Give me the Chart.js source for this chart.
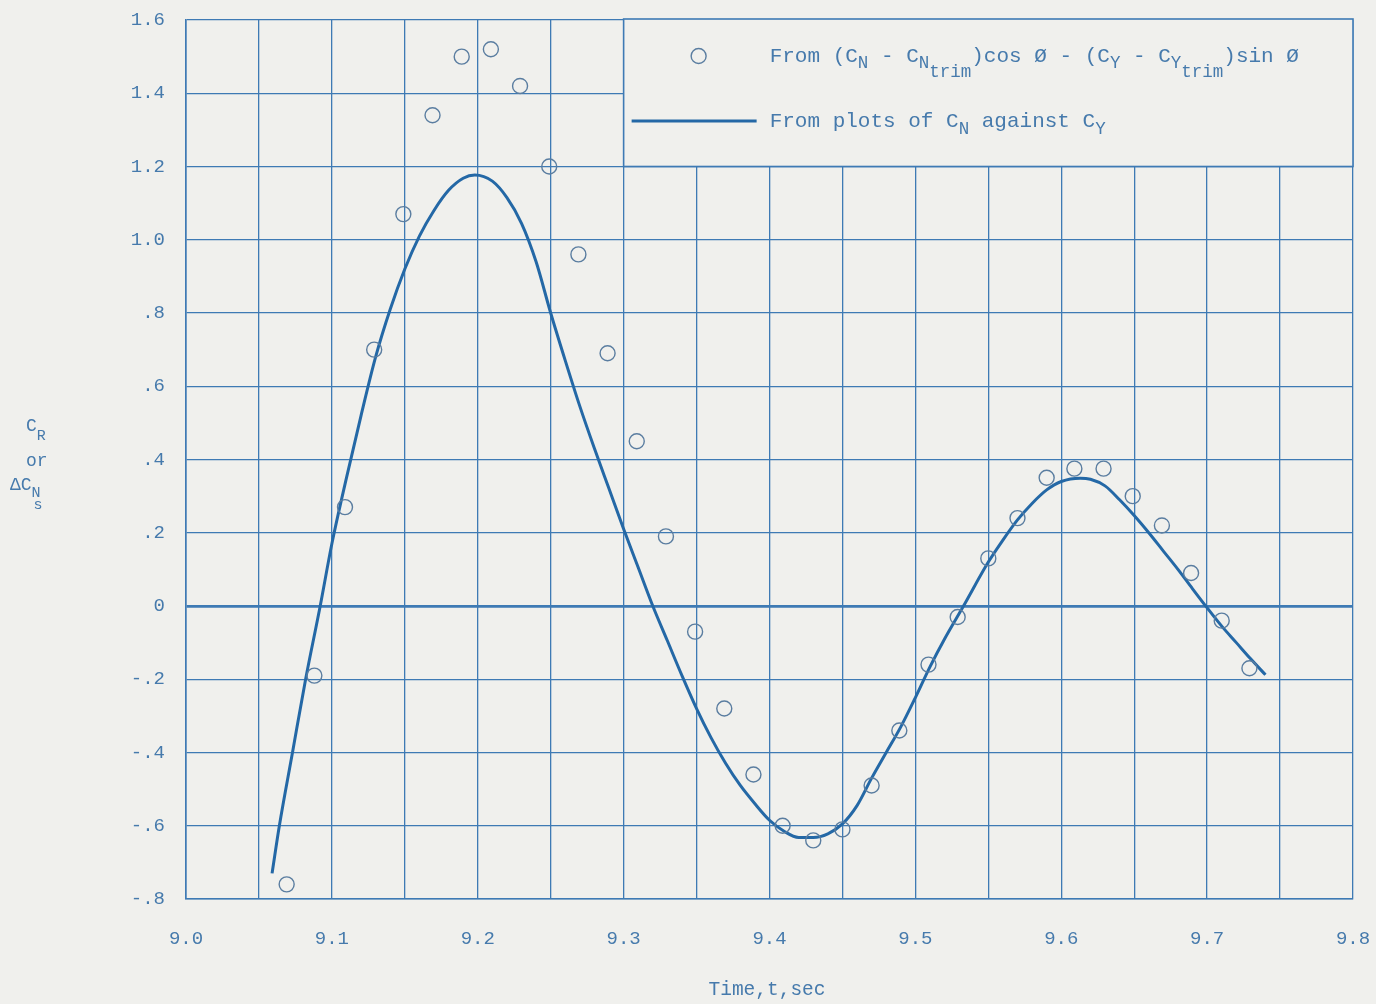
<!DOCTYPE html>
<html>
<head>
<meta charset="utf-8">
<script src="https://cdn.jsdelivr.net/npm/chart.js@4.4.1/dist/chart.umd.min.js"></script>
<style>
  html, body { margin: 0; padding: 0; background: #efefec; }
  #wrap { width: 1376px; height: 1004px; }
</style>
</head>
<body>
<div id="wrap"><canvas id="chart" width="1376" height="1004"></canvas></div>
<script>
// Circles: from (CN - CNtrim)cos Ø - (CY - CYtrim)sin Ø
const timeCircles = [9.069, 9.088, 9.109, 9.129, 9.149, 9.169, 9.189, 9.209, 9.229, 9.249,
  9.269, 9.289, 9.309, 9.329, 9.349, 9.369, 9.389, 9.409, 9.430, 9.450,
  9.470, 9.489, 9.509, 9.529, 9.550, 9.570, 9.590, 9.609, 9.629, 9.649,
  9.669, 9.689, 9.710, 9.729];
const crCircles = [-0.76, -0.19, 0.27, 0.70, 1.07, 1.34, 1.50, 1.52, 1.42, 1.20,
  0.96, 0.69, 0.45, 0.19, -0.07, -0.28, -0.46, -0.60, -0.64, -0.61,
  -0.49, -0.34, -0.16, -0.03, 0.13, 0.24, 0.35, 0.375, 0.375, 0.30,
  0.22, 0.09, -0.04, -0.17];

// Solid curve: from plots of CN against CY
const timeCurve = [9.059, 9.064, 9.073, 9.082, 9.092, 9.100, 9.110, 9.120, 9.130, 9.140,
  9.150, 9.160, 9.170, 9.180, 9.190, 9.198, 9.210, 9.220, 9.230, 9.240,
  9.250, 9.260, 9.270, 9.280, 9.290, 9.300, 9.310, 9.320, 9.330, 9.340,
  9.350, 9.360, 9.370, 9.380, 9.390, 9.400, 9.410, 9.420, 9.430, 9.440,
  9.450, 9.460, 9.470, 9.480, 9.490, 9.500, 9.510, 9.520, 9.533, 9.550,
  9.560, 9.570, 9.580, 9.590, 9.600, 9.613, 9.620, 9.630, 9.640, 9.650,
  9.660, 9.670, 9.680, 9.690, 9.700, 9.710, 9.720, 9.730, 9.740];
const cnCurve = [-0.73, -0.60, -0.40, -0.20, 0.00, 0.17, 0.35, 0.52, 0.68, 0.81,
  0.92, 1.01, 1.08, 1.135, 1.168, 1.177, 1.16, 1.115, 1.045, 0.94,
  0.80, 0.67, 0.545, 0.43, 0.32, 0.21, 0.105, 0.00, -0.095, -0.19,
  -0.28, -0.36, -0.43, -0.49, -0.54, -0.585, -0.615, -0.632, -0.632, -0.622,
  -0.595, -0.545, -0.47, -0.40, -0.33, -0.25, -0.166, -0.09, 0.00, 0.12,
  0.18, 0.235, 0.28, 0.317, 0.34, 0.349, 0.346, 0.328, 0.29, 0.247,
  0.20, 0.15, 0.10, 0.047, -0.005, -0.055, -0.10, -0.145, -0.188];

const xTickLabels = ['9.0', '9.1', '9.2', '9.3', '9.4', '9.5', '9.6', '9.7', '9.8'];
const yTickLabels = ['-.8', '-.6', '-.4', '-.2', '0', '.2', '.4', '.6', '.8', '1.0', '1.2', '1.4', '1.6'];

const paper = '#f0f0ed';
const gridBlue = 'rgb(62,122,180)';
const inkBlue = 'rgb(36,104,166)';
const textBlue = 'rgb(70,122,172)';
const mono = '"Liberation Mono", "DejaVu Sans Mono", monospace';

// draw a run of text pieces, each with its own size and vertical shift
function drawRuns(ctx, x, y, runs) {
  runs.forEach(r => {
    ctx.font = r.size + 'px ' + mono;
    ctx.fillText(r.t, x, y + (r.dy || 0));
    x += ctx.measureText(r.t).width;
  });
  return x;
}

const paperPlugin = {
  id: 'paper',
  beforeDraw(chart) {
    const ctx = chart.ctx;
    ctx.save();
    ctx.fillStyle = paper;
    ctx.fillRect(0, 0, chart.width, chart.height);
    ctx.restore();
  }
};

const notesPlugin = {
  id: 'notes',
  afterDraw(chart) {
    const ctx = chart.ctx;
    const xs = chart.scales.x, ys = chart.scales.y;
    ctx.save();

    // legend box sits over the grid cells from 9.3 to 9.8, 1.2 to 1.6
    const bx = xs.getPixelForValue(9.3), by = ys.getPixelForValue(1.6);
    const bw = xs.getPixelForValue(9.8) - bx, bh = ys.getPixelForValue(1.2) - by;
    ctx.fillStyle = paper;
    ctx.fillRect(bx, by - 2, bw, bh + 2);
    ctx.strokeStyle = gridBlue;
    ctx.lineWidth = 1.6;
    ctx.strokeRect(bx, by - 1, bw, bh + 1);

    ctx.textBaseline = 'middle';
    ctx.textAlign = 'left';
    ctx.fillStyle = textBlue;

    // first entry: circle marker
    ctx.beginPath();
    ctx.arc(bx + 75, by + 36, 7.5, 0, Math.PI * 2);
    ctx.strokeStyle = 'rgb(90,125,160)';
    ctx.lineWidth = 1.4;
    ctx.stroke();
    const big = 21, sub = 17.5;
    let x = drawRuns(ctx, bx + 146, by + 36, [
      { t: 'From (C', size: big },
      { t: 'N', size: sub, dy: 7 },
      { t: ' - C', size: big },
      { t: 'N', size: sub, dy: 7 }
    ]);
    x = drawRuns(ctx, x, by + 52, [{ t: 'trim', size: sub }]);
    x = drawRuns(ctx, x, by + 36, [
      { t: ')cos Ø - (C', size: big },
      { t: 'Y', size: sub, dy: 7 },
      { t: ' - C', size: big },
      { t: 'Y', size: sub, dy: 7 }
    ]);
    x = drawRuns(ctx, x, by + 52, [{ t: 'trim', size: sub }]);
    drawRuns(ctx, x, by + 36, [{ t: ')sin Ø', size: big }]);

    // second entry: solid line
    ctx.beginPath();
    ctx.moveTo(bx + 8, by + 101);
    ctx.lineTo(bx + 133, by + 101);
    ctx.strokeStyle = inkBlue;
    ctx.lineWidth = 3;
    ctx.stroke();
    drawRuns(ctx, bx + 146, by + 101, [
      { t: 'From plots of C', size: big },
      { t: 'N', size: sub, dy: 8 },
      { t: ' against C', size: big },
      { t: 'Y', size: sub, dy: 8 }
    ]);

    // axis titles
    ctx.fillStyle = textBlue;
    ctx.textAlign = 'center';
    ctx.font = '19.5px ' + mono;
    ctx.fillText('Time,t,sec', 767, 990);

    ctx.textAlign = 'left';
    drawRuns(ctx, 26, 426, [{ t: 'C', size: 18 }, { t: 'R', size: 15, dy: 10 }]);
    drawRuns(ctx, 26, 461, [{ t: 'or', size: 18 }]);
    let yx = drawRuns(ctx, 10, 485, [{ t: 'ΔC', size: 18 }, { t: 'N', size: 15, dy: 8 }]);
    drawRuns(ctx, yx - 7, 505, [{ t: 's', size: 15 }]);

    ctx.restore();
  }
};

new Chart(document.getElementById('chart').getContext('2d'), {
  type: 'scatter',
  data: {
    datasets: [
      {
        label: 'From (CN - CNtrim)cos Ø - (CY - CYtrim)sin Ø',
        data: timeCircles.map((t, i) => ({ x: t, y: crCircles[i] })),
        showLine: false,
        pointStyle: 'circle',
        pointRadius: 7.5,
        pointBorderWidth: 1.4,
        borderColor: 'rgb(90,125,160)',
        backgroundColor: 'rgba(0,0,0,0)',
        order: 1
      },
      {
        label: 'From plots of CN against CY',
        data: timeCurve.map((t, i) => ({ x: t, y: cnCurve[i] })),
        showLine: true,
        pointRadius: 0,
        borderColor: inkBlue,
        borderWidth: 3,
        cubicInterpolationMode: 'monotone',
        fill: false,
        order: 2
      }
    ]
  },
  options: {
    responsive: false,
    animation: false,
    layout: { padding: { left: 0, top: 20, right: 23, bottom: 0 } },
    plugins: {
      legend: { display: false },
      tooltip: { enabled: false }
    },
    scales: {
      x: {
        type: 'linear',
        min: 9.0,
        max: 9.8,
        afterFit(scale) {
          scale.height = 105;
          scale.paddingLeft = 0;
          scale.paddingRight = 0;
        },
        border: { display: true, color: gridBlue, width: 1.6 },
        grid: { color: gridBlue, lineWidth: 1.3, drawTicks: false },
        ticks: {
          stepSize: 0.05,
          autoSkip: false,
          maxRotation: 0,
          padding: 29,
          color: textBlue,
          font: { family: mono, size: 19 },
          callback: (v, i) => (i % 2 === 0 ? xTickLabels[i / 2] : '')
        }
      },
      y: {
        type: 'linear',
        min: -0.8,
        max: 1.6,
        afterFit(scale) {
          scale.width = 186;
          scale.paddingTop = 0;
          scale.paddingBottom = 0;
        },
        border: { display: true, color: gridBlue, width: 1.6 },
        grid: {
          color: gridBlue,
          drawTicks: false,
          lineWidth: c => (Math.abs(c.tick.value) < 1e-6 ? 2.8 : 1.3)
        },
        ticks: {
          stepSize: 0.2,
          autoSkip: false,
          padding: 21,
          color: textBlue,
          font: { family: mono, size: 19 },
          callback: (v, i) => yTickLabels[i]
        }
      }
    }
  },
  plugins: [paperPlugin, notesPlugin]
});
</script>
</body>
</html>
